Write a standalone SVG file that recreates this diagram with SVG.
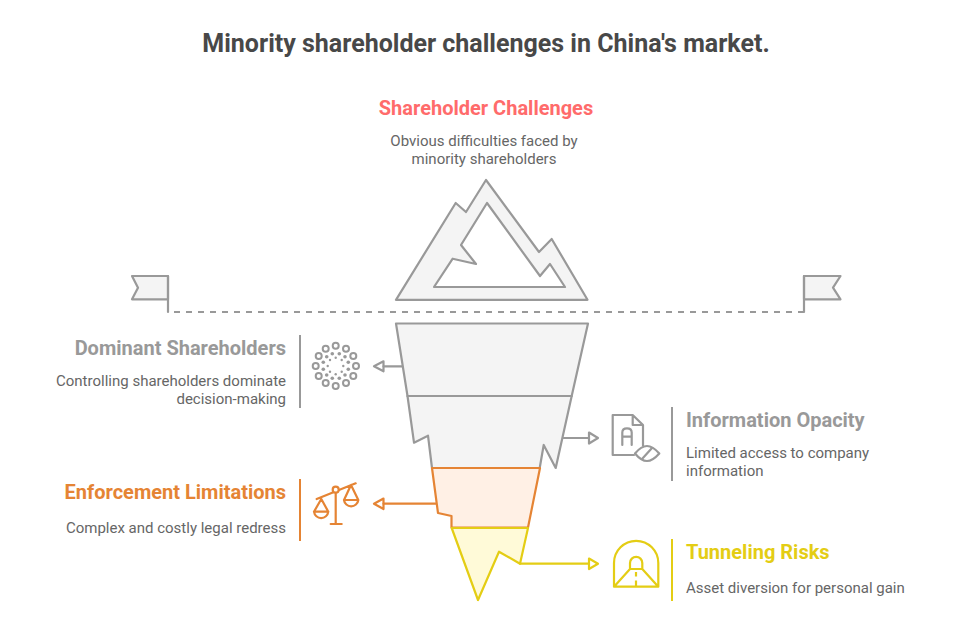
<svg xmlns="http://www.w3.org/2000/svg" width="972" height="618" viewBox="0 0 972 618">
<style>
text{font-family:Roboto,"Liberation Sans",sans-serif}
.title{font-size:25px;font-weight:700;fill:#484848}
.head{font-size:20px;font-weight:700}
.body{font-size:15px;fill:#666}
.g{fill:none;stroke:#999;stroke-width:2.2;stroke-linecap:round;stroke-linejoin:round}
.o{fill:none;stroke:#e58434;stroke-width:2.2;stroke-linecap:round;stroke-linejoin:round}
.y{fill:none;stroke:#e4cd14;stroke-width:2.2;stroke-linecap:round;stroke-linejoin:round}
.bar{stroke-width:2;stroke-linecap:butt}
.gf{fill:#f4f4f4}.of{fill:#fff0e5}.yf{fill:#fffad8}
</style>
<rect width="972" height="618" fill="#fff"/>
<text class="title" x="486" y="51.5" text-anchor="middle">Minority shareholder challenges in China's market.</text>
<g id="waterline">
<path class="g gf" d="M168 276H132L138 287.7L132 299.3H168Z"/>
<path class="g gf" d="M804 276H840.5L833 287.7L840.5 299.3H804Z"/>
<path class="g" d="M168 276V312"/><path class="g" d="M804 276V312"/>
<path d="M174 312H804" fill="none" stroke="#999" stroke-width="2" stroke-dasharray="6 6"/>
</g>
<g id="shareholder-challenges">
<path class="g gf" d="M486 180L466 212L455.7 203L396 299.8H587.5L551.7 239L539 252ZM487 203L540 276L550 264L565 287H434L452.7 258.7L476 264L461 245Z" fill-rule="evenodd"/>
<text class="head" x="486" y="115" text-anchor="middle" fill="#ff6b6b">Shareholder Challenges</text>
<text class="body" x="484" y="146" text-anchor="middle">Obvious difficulties faced by</text>
<text class="body" x="484" y="164" text-anchor="middle">minority shareholders</text>
</g>
<g id="connectors">
<path class="g" d="M402 366.3H383.5"/><path class="g" d="M383.5 361.3L374 366.3L383.5 371.3Z"/>
<path class="g" d="M563.5 438H589"/><path class="g" d="M589 432.5L598 438L589 443.5Z"/>
<path class="o" d="M438 503.7H383.5"/><path class="o" d="M383.5 498.5L374 503.7L383.5 509Z"/>
<path class="y" d="M520 563.7H589"/><path class="y" d="M589 558.5L598 563.7L589 569Z"/>
</g>
<g id="dominant-shareholders">
<path class="g gf" d="M396 323.5H588L571.7 396H407.5Z"/>
<g fill="none" stroke="#999" stroke-width="2">
<circle cx="335.7" cy="345.7" r="3"/><circle cx="346" cy="348.7" r="3"/><circle cx="353.3" cy="356" r="3"/><circle cx="356" cy="366" r="3"/><circle cx="353.3" cy="376" r="3"/><circle cx="346" cy="383" r="3"/><circle cx="335.7" cy="386" r="3"/><circle cx="325.7" cy="383" r="3"/><circle cx="318.7" cy="376" r="3"/><circle cx="315.7" cy="366" r="3"/><circle cx="318.7" cy="356" r="3"/><circle cx="325.7" cy="348.7" r="3"/>
</g>
<g fill="#999">
<circle cx="332.3" cy="353.7" r="1.8"/><circle cx="339.3" cy="353.7" r="1.8"/><circle cx="326.7" cy="356.7" r="1.8"/><circle cx="345" cy="356.7" r="1.8"/><circle cx="323.3" cy="362.3" r="1.8"/><circle cx="348.3" cy="362.3" r="1.8"/><circle cx="323.3" cy="369.3" r="1.8"/><circle cx="348.3" cy="369.3" r="1.8"/><circle cx="326.7" cy="375" r="1.8"/><circle cx="345" cy="375" r="1.8"/><circle cx="332.3" cy="378.3" r="1.8"/><circle cx="339.3" cy="378.3" r="1.8"/>
<circle cx="335.7" cy="357.7" r="1.2"/><circle cx="330" cy="360" r="1.2"/><circle cx="341.7" cy="360" r="1.2"/><circle cx="327.7" cy="366" r="1.2"/><circle cx="343.3" cy="366" r="1.2"/><circle cx="330" cy="371.7" r="1.2"/><circle cx="341.7" cy="371.7" r="1.2"/><circle cx="335.7" cy="374.3" r="1.2"/>
</g>
<path class="g bar" d="M300 335V408"/>
<text class="head" x="286" y="355" text-anchor="end" fill="#999">Dominant Shareholders</text>
<text class="body" x="286" y="386" text-anchor="end">Controlling shareholders dominate</text>
<text class="body" x="286" y="404" text-anchor="end">decision-making</text>
</g>
<g id="information-opacity">
<path class="g gf" d="M407.5 396H571.7L555.7 468L543.7 445L539.7 468H432L428 435.7L414 442.7Z"/>
<path class="g" d="M643 445.5V425L632.7 415H612.7V455H634M632.7 415V425H643M622.3 445V432.5Q622.3 428.3 627 428.3Q631.7 428.3 631.7 432.5V445M622.3 436.7H631.7"/>
<path class="g" d="M635 453.5C640 447.5 643 446 647 446C651 446 654 447.5 659.3 453.5C654 459.5 651 461 647 461C643 461 640 459.5 635 453.5Z"/>
<path class="g" d="M642 459L652 448"/>
<path class="g bar" d="M672 407V481"/>
<text class="head" x="686" y="427" fill="#999">Information Opacity</text>
<text class="body" x="686" y="458">Limited access to company</text>
<text class="body" x="686" y="476">information</text>
</g>
<g id="enforcement-limitations">
<path class="o of" d="M432 468H540L528 527.5H451.5V516L438 513Z"/>
<path class="o" d="M316.7 499L355.7 483.3M335.7 492.7V524M330.7 524H341.7M314 511.7H328.3L321.3 499ZM314 511.7A7.2 7.2 0 0 0 328.3 511.7M344 500H358.3L351 485ZM344 500A7.2 7.2 0 0 0 358.3 500"/>
<circle class="o" cx="335.7" cy="489.7" r="3" style="fill:#fff"/>
<path class="o bar" d="M300 479V541"/>
<text class="head" x="286" y="499" text-anchor="end" fill="#e58434">Enforcement Limitations</text>
<text class="body" x="286" y="533" text-anchor="end">Complex and costly legal redress</text>
</g>
<g id="tunneling-risks">
<path class="y yf" d="M451.7 528H528L520 563.7L499 551.7L478 600Z"/>
<path class="y" d="M614 586.7V563A22.1 22.1 0 0 1 658.3 563V586.7ZM630 569V563A6.1 6.1 0 0 1 642.3 563V569ZM630 569L614 586.7M642.3 569L658.3 586.7"/>
<path class="y" d="M636 572V576.5M636 580.5V586" style="stroke-linecap:butt"/>
<path class="y bar" d="M672 539V601"/>
<text class="head" x="686" y="559" fill="#e4cd14">Tunneling Risks</text>
<text class="body" x="686" y="593">Asset diversion for personal gain</text>
</g>
</svg>
